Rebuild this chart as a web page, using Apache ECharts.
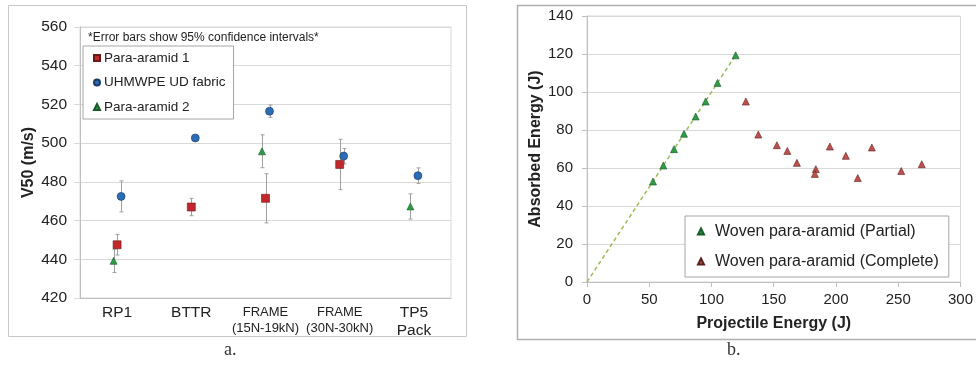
<!DOCTYPE html>
<html><head><meta charset="utf-8">
<script src="https://cdn.jsdelivr.net/npm/echarts@6/dist/echarts.min.js"></script>
<style>html,body{margin:0;padding:0;background:#fff}#c{width:976px;height:367px}</style>
</head><body><div id="c"></div>
<script>
// ---- Chart a data ----
const categories = ['RP1', 'BTTR', 'FRAME\n(15N-19kN)', 'FRAME\n(30N-30kN)', 'TP5\nPack'];
const para1 = [447.5, 467, 471.5, 489, null];
const para1Err = [5.3, 4.5, 12.7, 13, null];
const uhmwpe = [472.5, 502.7, 516.5, 493.3, 483.2];
const uhmwpeErr = [8, 0, 3.2, 4, 4];
const para2 = [439.2, null, 495.8, null, 467.3];
const para2Err = [6, null, 8.5, null, 6.5];
const yTicksA = [420, 440, 460, 480, 500, 520, 540, 560];

// ---- Chart b data ----
const partialX = [53, 61.3, 69.9, 77.9, 87.3, 95.3, 104.8, 119.4];
const partialY = [52.9, 61.3, 69.9, 78, 87.1, 95, 104.8, 119.3];
const completeX = [127.6, 137.6, 152.5, 160.9, 168.6, 183.8, 183, 195.1, 207.9, 217.5, 228.8, 252.4, 268.9];
const completeY = [95, 77.6, 72, 69, 62.7, 59.4, 56.9, 71.3, 66.4, 54.7, 70.8, 58.4, 62];
const trendX = [0, 120];
const trendY = [0, 120];

const FONT = 'Liberation Sans, Arial, sans-serif';
const GRID_C = '#d9d9d9';
const AXIS_C = '#bfbfbf';

function pts(v) { return v.map((y, i) => y == null ? [i, '-'] : [i, y]); }
function errs(v, e) {
  const out = [];
  v.forEach((y, i) => { if (y != null && e[i]) out.push([i, y - e[i], y + e[i]]); });
  return out;
}
function errRender(offset) {
  return function (params, api) {
    const x = api.value(0), lo = api.value(1), hi = api.value(2);
    const p1 = api.coord([x, hi]), p2 = api.coord([x, lo]);
    const cx = Math.round(p1[0] + offset) + 0.5;
    const st = { stroke: '#a0a0a0', lineWidth: 1 };
    return { type: 'group', children: [
      { type: 'line', shape: { x1: cx, y1: p1[1], x2: cx, y2: p2[1] }, style: st },
      { type: 'line', shape: { x1: cx - 2, y1: p1[1], x2: cx + 2, y2: p1[1] }, style: st },
      { type: 'line', shape: { x1: cx - 2, y1: p2[1], x2: cx + 2, y2: p2[1] }, style: st }
    ]};
  };
}
const OFF_TRI = -3.5, OFF_SQ = 0, OFF_CIR = 4;

const chart = echarts.init(document.getElementById('c'), null, { renderer: 'canvas' });
chart.setOption({
  animation: false,
  textStyle: { fontFamily: FONT },
  graphic: [
    { type: 'rect', shape: { x: 8.5, y: 5.5, width: 458, height: 331 }, style: { fill: 'none', stroke: '#c8c8c8', lineWidth: 1 }, z: -10 },
    { type: 'rect', shape: { x: 517.5, y: 5.5, width: 470, height: 334 }, style: { fill: 'none', stroke: '#b0b0b0', lineWidth: 1.5 }, z: -10 },
    { type: 'text', left: 88, top: 32, style: { text: '*Error bars show 95% confidence intervals*', font: '12px ' + FONT, fill: '#222' } },
    { type: 'text', left: 224, top: 341, style: { text: 'a.', font: '18px Liberation Serif, serif', fill: '#333' } },
    { type: 'text', left: 727, top: 341, style: { text: 'b.', font: '18px Liberation Serif, serif', fill: '#333' } }
  ],
  legend: [
    {
      data: ['Para-aramid 1', 'UHMWPE UD fabric', 'Para-aramid 2'],
      orient: 'vertical', left: 83, top: 46,
      padding: [4, 8, 4, 10], itemGap: 8.5, itemWidth: 6, itemHeight: 6,
      backgroundColor: '#fff', borderColor: '#a6a6a6', borderWidth: 1,
      textStyle: { fontSize: 13.5, lineHeight: 16, color: '#222', fontFamily: FONT, padding: [0, 0, 0, -1] }
    },
    {
      data: ['Woven para-aramid (Partial)', 'Woven para-aramid (Complete)'],
      orient: 'vertical', left: 685, top: 216,
      padding: [7.5, 10, 7.5, 12], itemGap: 14, itemWidth: 6, itemHeight: 6,
      backgroundColor: '#fff', borderColor: '#a6a6a6', borderWidth: 1,
      textStyle: { fontSize: 16, lineHeight: 16, color: '#222', fontFamily: FONT, padding: [0, 0, 0, 6] }
    }
  ],
  grid: [
    { left: 80, top: 27, width: 371, height: 271, show: true, borderColor: GRID_C, borderWidth: 1, containLabel: false },
    { left: 587, top: 16, width: 374, height: 266, show: true, borderColor: GRID_C, borderWidth: 1, containLabel: false }
  ],
  xAxis: [
    {
      gridIndex: 0, type: 'category', data: categories, boundaryGap: true,
      axisLine: { lineStyle: { color: AXIS_C } }, axisTick: { show: false },
      axisLabel: {
        interval: 0, margin: 6, color: '#222',
        formatter: function (v) {
          if (v.indexOf('FRAME') === 0) return v.split('\n').map(s => '{s|' + s + '}').join('\n');
          return v.split('\n').map(s => '{b|' + s + '}').join('\n');
        },
        rich: {
          b: { fontSize: 15.5, lineHeight: 18, fontFamily: FONT, color: '#222' },
          s: { fontSize: 13, lineHeight: 16, fontFamily: FONT, color: '#222' }
        }
      }
    },
    {
      gridIndex: 1, type: 'value', min: 0, max: 300, interval: 50,
      name: 'Projectile Energy (J)', nameLocation: 'middle', nameGap: 34,
      nameTextStyle: { fontSize: 16, fontWeight: 'bold', color: '#222', fontFamily: FONT },
      axisLine: { lineStyle: { color: AXIS_C } },
      axisTick: { show: true, inside: false, length: 5, lineStyle: { color: AXIS_C } },
      splitLine: { show: false },
      axisLabel: { fontSize: 15, color: '#222', margin: 10 }
    }
  ],
  yAxis: [
    {
      gridIndex: 0, type: 'value', min: 420, max: 560, interval: 20,
      name: 'V50 (m/s)', nameLocation: 'middle', nameGap: 43,
      nameTextStyle: { fontSize: 16, fontWeight: 'bold', color: '#222', fontFamily: FONT },
      axisLine: { show: true, lineStyle: { color: AXIS_C } },
      axisTick: { show: true, length: 6, lineStyle: { color: GRID_C } },
      splitLine: { lineStyle: { color: GRID_C } },
      axisLabel: { fontSize: 15.5, color: '#222', margin: 13 }
    },
    {
      gridIndex: 1, type: 'value', min: 0, max: 140, interval: 20,
      name: 'Absorbed Energy (J)', nameLocation: 'middle', nameGap: 42,
      nameTextStyle: { fontSize: 16, fontWeight: 'bold', color: '#222', fontFamily: FONT },
      axisLine: { show: true, lineStyle: { color: AXIS_C } },
      axisTick: { show: true, length: 5, lineStyle: { color: AXIS_C } },
      splitLine: { lineStyle: { color: GRID_C } },
      axisLabel: { fontSize: 15, color: '#222', margin: 14 }
    }
  ],
  series: [
    { type: 'custom', xAxisIndex: 0, yAxisIndex: 0, renderItem: errRender(OFF_SQ), data: errs(para1, para1Err), silent: true, z: 1 },
    { type: 'custom', xAxisIndex: 0, yAxisIndex: 0, renderItem: errRender(OFF_CIR), data: errs(uhmwpe, uhmwpeErr), silent: true, z: 1 },
    { type: 'custom', xAxisIndex: 0, yAxisIndex: 0, renderItem: errRender(OFF_TRI), data: errs(para2, para2Err), silent: true, z: 1 },
    {
      name: 'Para-aramid 1', type: 'scatter', xAxisIndex: 0, yAxisIndex: 0,
      data: pts(para1), symbol: 'rect', symbolSize: 8, symbolOffset: [OFF_SQ, 0],
      itemStyle: { color: '#c1272d', borderColor: '#6b1a1a', borderWidth: 0.6, opacity: 1 }, z: 3
    },
    {
      name: 'UHMWPE UD fabric', type: 'scatter', xAxisIndex: 0, yAxisIndex: 0,
      data: pts(uhmwpe), symbol: 'circle', symbolSize: 8, symbolOffset: [OFF_CIR, 0],
      itemStyle: { color: '#2a6db5', borderColor: '#1c3a66', borderWidth: 0.6, opacity: 1 }, z: 3
    },
    {
      name: 'Para-aramid 2', type: 'scatter', xAxisIndex: 0, yAxisIndex: 0,
      data: pts(para2), symbol: 'triangle', symbolSize: 7, symbolOffset: [OFF_TRI, 0],
      itemStyle: { color: '#2e9b47', borderColor: '#1b5a2a', borderWidth: 0.6, opacity: 1 }, z: 3
    },
    {
      type: 'line', xAxisIndex: 1, yAxisIndex: 1, data: trendX.map((x, i) => [x, trendY[i]]),
      showSymbol: false, symbol: 'none', silent: true,
      lineStyle: { color: '#9bbb59', width: 1.5, type: [4, 3] }, z: 1
    },
    {
      name: 'Woven para-aramid (Partial)', type: 'scatter', xAxisIndex: 1, yAxisIndex: 1,
      data: partialX.map((x, i) => [x, partialY[i]]), symbol: 'triangle', symbolSize: 7,
      itemStyle: { color: '#2e9b47', borderColor: '#1b5a2a', borderWidth: 0.6, opacity: 1 }, z: 3
    },
    {
      name: 'Woven para-aramid (Complete)', type: 'scatter', xAxisIndex: 1, yAxisIndex: 1,
      data: completeX.map((x, i) => [x, completeY[i]]), symbol: 'triangle', symbolSize: 7,
      itemStyle: { color: '#c0504d', borderColor: '#5a2020', borderWidth: 0.6, opacity: 1 }, z: 3
    }
  ]
});
</script></body></html>
